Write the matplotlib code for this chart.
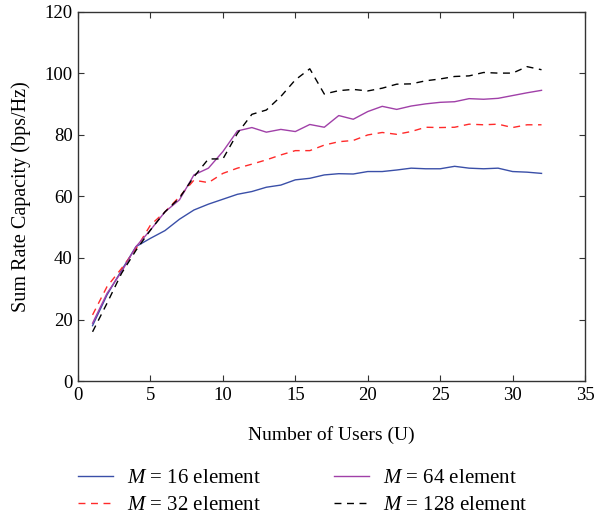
import numpy as np
import matplotlib.pyplot as plt

plt.rcParams['font.family'] = 'Liberation Serif'
plt.rcParams['mathtext.fontset'] = 'custom'
plt.rcParams['mathtext.it'] = 'Liberation Serif:italic'
plt.rcParams['mathtext.rm'] = 'Liberation Serif'

users = np.arange(1, 33)

m16 = [18, 28, 36, 43.7, 46.4, 48.9, 52.6, 55.6, 57.5, 59.1, 60.7, 61.6, 63, 63.7, 65.4, 65.9,
       67, 67.4, 67.3, 68.1, 68.1, 68.6, 69.2, 69, 69, 69.8, 69.2, 69, 69.2, 68.1, 67.9, 67.5]
m32 = [21.5, 30.7, 36.6, 43, 50.7, 55, 59.9, 65.3, 64.5, 67.5, 69.2, 70.5, 71.9, 73.5, 74.9, 74.9,
       76.7, 77.8, 78.2, 80, 80.8, 80.2, 81.1, 82.5, 82.4, 82.5, 83.5, 83.3, 83.5, 82.4, 83.3, 83.3]
m64 = [18.8, 28.5, 35.5, 43.7, 49.1, 55, 58.9, 67, 69.2, 74.6, 81.3, 82.4, 80.9, 81.8, 81.1, 83.4,
       82.5, 86.3, 85.1, 87.6, 89.3, 88.3, 89.4, 90.1, 90.6, 90.8, 91.8, 91.6, 91.9, 92.8, 93.7, 94.5]
m128 = [16, 25.3, 35, 42.5, 49.1, 55, 59.5, 66.4, 72.2, 72.2, 80.5, 86.7, 88.1, 92.5, 97.9, 101.5,
        93.3, 94.4, 94.8, 94.3, 95.2, 96.5, 96.6, 97.6, 98.2, 99, 99.2, 100.3, 100.1, 100.1, 102.2, 101.2]

fig = plt.figure(figsize=(5.96, 5.17), dpi=100)
ax = fig.add_axes([0.131, 0.263, 0.8505, 0.714])

ax.plot(users, m16, '-', color='#3a4fa8', lw=1.0, label='$M$ = 16 element')
ax.plot(users, m32, '--', color='#ff2a2a', lw=1.0, dashes=(5, 4), label='$M$ = 32 element')
ax.plot(users, m64, '-', color='#a040a8', lw=1.0, label='$M$ = 64 element')
ax.plot(users, m128, '--', color='black', lw=1.0, dashes=(5, 4), label='$M$ = 128 element')

ax.set_xlim(0, 35)
ax.set_ylim(0, 120)
ax.set_xticks(range(0, 36, 5))
ax.set_yticks(range(0, 121, 20))
ax.tick_params(direction='in', top=True, right=True, labelsize=13.5, length=4,
               color='#333333', pad=4)
for s in ax.spines.values():
    s.set_color('#333333')
    s.set_linewidth(1.0)

ax.set_xlabel('Number of Users (U)', fontsize=14, labelpad=16)
ax.set_ylabel('Sum Rate Capacity (bps/Hz)', fontsize=14.5, labelpad=10)

h, l = ax.get_legend_handles_labels()
fig.legend(h, l, ncol=2, frameon=False,
           loc='upper left', bbox_to_anchor=(0.131, 0.094), fontsize=15,
           handlelength=1.7, handletextpad=0.65, columnspacing=3.5,
           labelspacing=0.38, borderaxespad=0, borderpad=0)

fig.savefig('out.png', dpi=100)
